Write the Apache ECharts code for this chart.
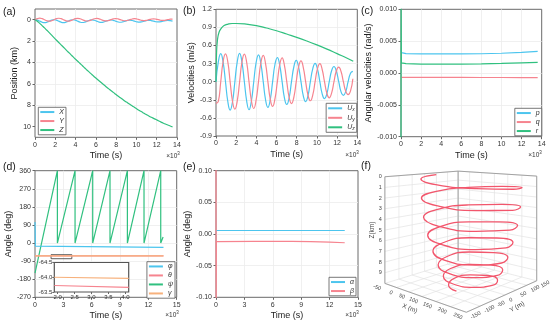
<!DOCTYPE html>
<html><head><meta charset="utf-8">
<script src="https://cdn.jsdelivr.net/npm/echarts@6/dist/echarts.min.js"></script>
<style>html,body{margin:0;padding:0;background:#fff}#c{width:550px;height:328px}</style>
</head><body><div id="c"></div>
<script>
// ---------- DATA ----------
// time in 10^3 s
const time = [0, 0.23, 0.47, 0.70, 0.94, 1.17, 1.40, 1.64,
  1.87, 2.10, 2.34, 2.57, 2.81, 3.04, 3.27, 3.51,
  3.74, 3.97, 4.21, 4.44, 4.68, 4.91, 5.14, 5.38,
  5.61, 5.84, 6.08, 6.31, 6.55, 6.78, 7.01, 7.25,
  7.48, 7.72, 7.95, 8.18, 8.42, 8.65, 8.88, 9.12,
  9.35, 9.59, 9.82, 10.05, 10.29, 10.52, 10.75, 10.99,
  11.22, 11.46, 11.69, 11.92, 12.16, 12.39, 12.62, 12.86,
  13.09, 13.33, 13.56];
// position (km)
const posX = [0, 0.040, 0.138, 0.236, 0.276, 0.236, 0.138, 0.040,
  0, 0.041, 0.138, 0.234, 0.273, 0.233, 0.138, 0.044,
  0.006, 0.045, 0.138, 0.229, 0.265, 0.227, 0.138, 0.051,
  0.016, 0.053, 0.138, 0.221, 0.253, 0.218, 0.138, 0.060,
  0.030, 0.063, 0.138, 0.211, 0.239, 0.208, 0.138, 0.070,
  0.044, 0.073, 0.138, 0.201, 0.225, 0.198, 0.138, 0.080,
  0.058, 0.083, 0.138, 0.191, 0.211, 0.188, 0.138, 0.090,
  0.072, 0.093, 0.138];
const posY = [0, -0.098, -0.138, -0.098, 0, 0.098, 0.138, 0.098,
  0, -0.097, -0.136, -0.096, 0, 0.095, 0.134, 0.094,
  0, -0.093, -0.130, -0.091, 0, 0.089, 0.125, 0.087,
  0, -0.085, -0.118, -0.083, 0, 0.080, 0.112, 0.078,
  0, -0.075, -0.105, -0.073, 0, 0.070, 0.098, 0.068,
  0, -0.065, -0.091, -0.063, 0, 0.060, 0.084, 0.058,
  0, -0.055, -0.077, -0.053, 0, 0.050, 0.070, 0.048,
  0, -0.045, -0.062];
const posZ = [0, 0.14, 0.34, 0.55, 0.77, 0.99, 1.21, 1.44,
  1.67, 1.90, 2.13, 2.35, 2.58, 2.80, 3.02, 3.24,
  3.46, 3.68, 3.89, 4.10, 4.31, 4.52, 4.73, 4.93,
  5.13, 5.33, 5.52, 5.71, 5.90, 6.09, 6.27, 6.45,
  6.63, 6.80, 6.97, 7.14, 7.30, 7.46, 7.62, 7.77,
  7.92, 8.07, 8.21, 8.35, 8.49, 8.62, 8.75, 8.88,
  9.00, 9.12, 9.23, 9.34, 9.45, 9.56, 9.66, 9.76,
  9.85, 9.94, 10.02];
// velocities (m/s)
const velX = [0, 0.328, 0.464, 0.328, 0, -0.328, -0.470, -0.328,
  0, 0.325, 0.470, 0.323, 0, -0.321, -0.465, -0.316,
  0, 0.311, 0.445, 0.306, 0, -0.299, -0.425, -0.292,
  0, 0.285, 0.400, 0.278, 0, -0.269, -0.378, -0.262,
  0, 0.252, 0.353, 0.245, 0, -0.235, -0.330, -0.228,
  0, 0.218, 0.303, 0.211, 0, -0.202, -0.280, -0.195,
  0, 0.185, 0.252, 0.178, 0, -0.169, -0.225, -0.161,
  0, 0.140, 0.170];
const velY = [-0.36, -0.328, 0, 0.328, 0.462, 0.328, 0, -0.328,
  -0.455, -0.325, 0, 0.323, 0.458, 0.321, 0, -0.316,
  -0.444, -0.311, 0, 0.306, 0.437, 0.299, 0, -0.292,
  -0.410, -0.285, 0, 0.278, 0.395, 0.269, 0, -0.262,
  -0.363, -0.252, 0, 0.245, 0.345, 0.235, 0, -0.228,
  -0.316, -0.218, 0, 0.211, 0.298, 0.202, 0, -0.195,
  -0.269, -0.185, 0, 0.178, 0.240, 0.169, 0, -0.161,
  -0.215, -0.152, 0.05];
const velZTime = [0, 0.05, 0.15, 0.3, 0.5, 0.8, 1.2, 1.6, 2, 3, 4, 5, 6, 7, 8, 9, 10, 11, 12, 13, 13.6];
const velZ = [0, 0.45, 0.70, 0.82, 0.88, 0.93, 0.955, 0.965, 0.965, 0.955, 0.93, 0.89, 0.845, 0.79, 0.735, 0.675, 0.61, 0.54, 0.465, 0.39, 0.34];
// angular velocities (rad/s)
const pTime = [0, 0.05, 0.5, 2, 4, 6, 8, 10, 12, 13.6];
const pVal = [0.0036, 0.0032, 0.00305, 0.0030, 0.0030, 0.0030, 0.00302, 0.0031, 0.00325, 0.0034];
const qTime = [0, 2, 4, 6, 8, 10, 12, 13.6];
const qVal = [-0.0007, -0.0007, -0.0007, -0.0007, -0.00071, -0.00071, -0.00072, -0.00072];
const rTime = [0, 0.01, 0.04, 0.5, 2, 4, 6, 8, 10, 12, 13.6];
const rVal = [-0.012, 0.012, 0.0016, 0.00148, 0.0014, 0.0014, 0.0014, 0.00142, 0.0015, 0.0016, 0.00168];
// attitude angles (deg)
const phiTime = [0, 0.04, 0.15, 13.6];
const phiVal = [105, -15, -22, -22];
const thetaTime = [0, 13.6];
const thetaVal = [-63.7, -63.65];
const psiTime = [0, 2.37, 2.37, 4.24, 4.24, 6.11, 6.11, 7.94, 7.94, 9.78, 9.78, 11.54, 11.54, 13.31, 13.31, 13.56];
const psiVal = [-150, 360, 0, 360, 0, 360, 0, 360, 0, 360, 0, 360, 0, 360, 0, 30];
const gammaTime = [0, 13.6];
const gammaVal = [-64.0, -63.95];
const insetTime = [1.9, 4.1];
const insetTheta = [-63.72, -63.66];
const insetGamma = [-64.0, -63.96];
// attack / sideslip (deg)
const alphaTime = [0, 13.6];
const alphaVal = [0.0055, 0.0055];
const betaTime = [0, 0.01, 0.04, 4, 8, 10, 12, 13.6];
const betaVal = [0.15, -0.15, -0.012, -0.0118, -0.0118, -0.012, -0.0128, -0.0138];
// tick labels
const posTicks = [0, 2, 4, 6, 8, 10];
const insetXTicks = [2.0, 2.5, 3.0, 3.5, 4.0];
const x3Ticks = [-50, 0, 50, 100, 150, 200, 250];
const y3Ticks = [-150, -100, -50, 0, 50, 100, 150];
const z3Ticks = [0, 1, 2, 3, 4, 5, 6, 7, 8, 9];

// ---------- STYLE / LAYOUT ----------
const FONT = '"Liberation Sans", Arial, sans-serif';
const COL = {cyan: '#4cc5ee', red: '#f6848f', green: '#30c07f', orange: '#f7b17c', helix: '#f2566c'};
const pairs = (xs, ys) => xs.map((x, i) => [x, ys[i]]);

const gridRects = [
  {left: 35, top: 9, width: 142, height: 128.3},
  {left: 216, top: 9.3, width: 141.3, height: 126.7},
  {left: 401, top: 9.3, width: 140.7, height: 127.4},
  {left: 35, top: 170.7, width: 141.7, height: 126.6},
  {left: 216, top: 170.7, width: 142, height: 126.6}
];
const grids = gridRects.map(r => Object.assign({show: true, borderColor: '#6a6a6a', borderWidth: 1, backgroundColor: 'transparent', containLabel: false}, r));
grids.push({show: true, left: 54.3, top: 262.5, width: 74.4, height: 29.5, backgroundColor: '#fff', borderColor: '#555', borderWidth: 1.2, z: 5});
grids.push({show: false, left: 0, top: 0, width: 550, height: 328});

const tickLine = {lineStyle: {color: '#666'}};
const split = {show: true, showMinLine: false, showMaxLine: false, lineStyle: {color: '#ececec', width: 0.8}};
function xAx(gi, max, interval) {
  return {gridIndex: gi, type: 'value', min: 0, max: max, interval: interval, position: 'bottom',
    name: 'Time (s)', nameLocation: 'middle', nameGap: 14,
    nameTextStyle: {fontSize: 9, color: '#222', fontFamily: FONT},
    axisLine: {show: false, onZero: false}, axisTick: Object.assign({show: true, length: 2.5}, tickLine),
    axisLabel: {fontSize: 7, color: '#333', margin: 4, fontFamily: FONT}, splitLine: split};
}
function yAx(gi, o) {
  const ax = {gridIndex: gi, type: 'value', min: o.min, max: o.max, inverse: !!o.inverse, position: 'left',
    name: o.name, nameLocation: 'middle', nameGap: o.gap,
    nameTextStyle: {fontSize: 9, color: '#222', fontFamily: FONT},
    axisLine: {show: false, onZero: false}, axisTick: Object.assign({show: true, length: 2.5}, tickLine),
    axisLabel: {fontSize: 7, color: '#333', margin: 4, fontFamily: FONT}, splitLine: split};
  if (o.interval) ax.interval = o.interval;
  if (o.fmt !== undefined) ax.axisLabel.formatter = v => v.toFixed(o.fmt);
  if (o.custom) { ax.axisTick.customValues = o.custom; ax.axisLabel.customValues = o.custom; }
  return ax;
}
const xAxis = [xAx(0, 14, 2), xAx(1, 14, 2), xAx(2, 14, 2), xAx(3, 15, 3), xAx(4, 15, 3)];
const yAxis = [
  yAx(0, {min: -1, max: 11, inverse: true, custom: posTicks, name: 'Position (km)', gap: 15}),
  yAx(1, {min: -0.9, max: 1.2, interval: 0.3, fmt: 1, name: 'Velocities (m/s)', gap: 17}),
  yAx(2, {min: -0.01, max: 0.01, interval: 0.005, fmt: 3, name: 'Angular velocities (rad/s)', gap: 23}),
  yAx(3, {min: -270, max: 360, interval: 90, name: 'Angle (deg)', gap: 17}),
  yAx(4, {min: -0.1, max: 0.1, interval: 0.05, fmt: 2, name: 'Angle (deg)', gap: 21})
];
// inset axes
xAxis.push({gridIndex: 5, type: 'value', min: 1.9, max: 4.1, z: 6, position: 'bottom',
  axisLine: {show: false, onZero: false}, axisTick: {show: true, length: 2, customValues: insetXTicks, lineStyle: {color: '#666'}},
  axisLabel: {fontSize: 6, color: '#333', margin: 2, customValues: insetXTicks, formatter: v => v.toFixed(1), fontFamily: FONT},
  splitLine: {show: false}});
yAxis.push({gridIndex: 5, type: 'value', min: -64.5, max: -63.5, interval: 0.5, inverse: true, z: 6, position: 'left',
  axisLine: {show: false, onZero: false}, axisTick: {show: true, length: 2, lineStyle: {color: '#666'}},
  axisLabel: {fontSize: 6, color: '#333', margin: 2, formatter: v => v.toFixed(1), fontFamily: FONT},
  splitLine: {show: false}});
// 3D canvas axes (hidden, pixel space)
xAxis.push({gridIndex: 6, type: 'value', min: 0, max: 550, show: false});
yAxis.push({gridIndex: 6, type: 'value', min: 0, max: 328, inverse: true, show: false});

function line(name, gi, data, color, extra) {
  return Object.assign({name: name, type: 'line', xAxisIndex: gi, yAxisIndex: gi, data: data,
    showSymbol: false, symbol: 'none', smooth: false, lineStyle: {width: 1.2, color: color}, itemStyle: {color: color},
    animation: false, z: 3}, extra || {});
}

// ---------- 3D projection for panel (f) ----------
const box3 = {x: [-50, 250], y: [-150, 150], z: [0, 10]};
const cam = {psi: 48 * Math.PI / 180, Dh: 4, f: 430, H: 0.983, ez: 0.819, cx: 461.5, cy: 141.2};
function proj(X, Y, Z) {
  const a = (X - box3.x[0]) / (box3.x[1] - box3.x[0]);
  const b = (Y - box3.y[0]) / (box3.y[1] - box3.y[0]);
  const c = (Z - box3.z[0]) / (box3.z[1] - box3.z[0]);
  const xw = a - 0.5, yw = b - 0.5, zw = (0.5 - c) * cam.H;
  const cs = Math.cos(cam.psi), sn = Math.sin(cam.psi);
  const depth = cam.Dh - (xw * cs - yw * sn);
  const lat = xw * sn + yw * cs;
  return [cam.cx + cam.f * lat / depth, cam.cy + cam.f * (cam.ez - zw) / depth];
}
const [x0, x1] = box3.x, [y0, y1] = box3.y, [z0, z1] = box3.z;
const segs = [];
function seg(p, q, kind) { const A = proj(...p), B = proj(...q); segs.push([A[0], A[1], B[0], B[1], kind]); }
y3Ticks.forEach(y => seg([x0, y, z0], [x0, y, z1], 0));
x3Ticks.forEach(x => seg([x, y1, z0], [x, y1, z1], 0));
z3Ticks.forEach(z => { seg([x0, y0, z], [x0, y1, z], 0); seg([x0, y1, z], [x1, y1, z], 0); });
x3Ticks.forEach(x => seg([x, y0, z1], [x, y1, z1], 0));
y3Ticks.forEach(y => seg([x0, y, z1], [x1, y, z1], 0));
// box edges
seg([x0, y0, z0], [x0, y0, z1], 1); seg([x0, y1, z0], [x0, y1, z1], 1); seg([x1, y1, z0], [x1, y1, z1], 1);
seg([x0, y0, z0], [x0, y1, z0], 1); seg([x0, y1, z0], [x1, y1, z0], 1);
seg([x0, y0, z1], [x1, y0, z1], 1); seg([x1, y0, z1], [x1, y1, z1], 1);
// labels
const labs = [];
z3Ticks.forEach(z => { const p = proj(x0, y0, z); labs.push({x: p[0] - 3, y: p[1], t: String(z), align: 'right', va: 'middle', rot: 0}); });
x3Ticks.forEach(x => { const p = proj(x, y0, z1); labs.push({x: p[0] - 3, y: p[1] + 3, t: String(x), align: 'right', va: 'top', rot: -0.4}); });
y3Ticks.forEach(y => { const p = proj(x1, y, z1); labs.push({x: p[0] + 3, y: p[1] + 3, t: String(y), align: 'left', va: 'top', rot: 0.5}); });
(() => { const p = proj((x0 + x1) / 2, y0, z1); labs.push({x: p[0] - 12, y: p[1] + 12, t: 'X (m)', align: 'center', va: 'middle', rot: -0.39, fs: 6.5}); })();
(() => { const p = proj(x1, (y0 + y1) / 2, z1); labs.push({x: p[0] + 12, y: p[1] + 12, t: 'Y (m)', align: 'center', va: 'middle', rot: 0.5, fs: 6.5}); })();
(() => { const p = proj(x0, y0, (z0 + z1) / 2); labs.push({x: p[0] - 13, y: p[1], t: 'Z(km)', align: 'center', va: 'middle', rot: Math.PI / 2, fs: 6.5}); })();

const helix = time.map((t, i) => proj(posX[i] * 1000, posY[i] * 1000, posZ[i]));

// ---------- legends ----------
function lg(names, pos, extra) {
  return Object.assign({data: names, orient: 'vertical', icon: 'rect', itemWidth: 14, itemHeight: 2, itemGap: 1.5,
    padding: [1, 2, 1, 2], borderColor: '#555', borderWidth: 0.8, backgroundColor: '#fff', selectedMode: false,
    textStyle: {fontSize: 7, fontStyle: 'italic', color: '#333', lineHeight: 7.5, fontFamily: FONT}}, pos, extra || {});
}
const subRich = {u: {fontSize: 7, fontStyle: 'italic', fontFamily: FONT, color: '#333'}, s: {fontSize: 5, fontStyle: 'italic', fontFamily: FONT, color: '#333', padding: [3, 0, 0, 0]}};
const legends = [
  lg(['X', 'Y', 'Z'], {left: 38.3, top: 107.3}),
  lg(['Ux', 'Uy', 'Uz'], {right: 193.3, top: 103.3}, {formatter: n => '{u|U}{s|' + n.slice(1) + '}', textStyle: {rich: subRich, lineHeight: 8}}),
  lg(['p', 'q', 'r'], {right: 8.3, top: 108.3}),
  lg(['φ', 'θ', 'ψ', 'γ'], {right: 375, top: 261.7}),
  lg(['α', 'β'], {right: 194, top: 277.3})
];

// ---------- text decorations ----------
function txt(x, y, s, size) { return {type: 'text', x: x, y: y, z: 10, style: {text: s, fontSize: size, fill: '#222', fontFamily: FONT, align: 'left', verticalAlign: 'middle'}}; }
function e3(x, y) { return {type: 'text', x: x, y: y, z: 10, style: {text: '×10{s|3}', fontSize: 6.5, fill: '#333', fontFamily: FONT, align: 'center', verticalAlign: 'middle', rich: {s: {fontSize: 4.5, fontFamily: FONT, fill: '#333', padding: [0, 0, 4, 0]}}}}; }
const graphic = [
  txt(3, 12, '(a)', 10.5), txt(183, 11.5, '(b)', 10.5), txt(361, 11.5, '(c)', 10.5),
  txt(3, 167, '(d)', 10.5), txt(183, 167, '(e)', 10.5), txt(361, 166, '(f)', 10.5),
  e3(173, 156), e3(352, 155), e3(535, 155), e3(172, 315), e3(352, 315)
];

const series = [
  line('X', 0, pairs(time, posX), COL.cyan, {smooth: true}),
  line('Y', 0, pairs(time, posY), COL.red, {smooth: true}),
  line('Z', 0, pairs(time, posZ), COL.green, {smooth: true}),
  line('Ux', 1, pairs(time, velX), COL.cyan, {smooth: true}),
  line('Uy', 1, pairs(time, velY), COL.red, {smooth: true}),
  line('Uz', 1, pairs(velZTime, velZ), COL.green, {smooth: true}),
  line('p', 2, pairs(pTime, pVal), COL.cyan),
  line('q', 2, pairs(qTime, qVal), COL.red),
  line('r', 2, pairs(rTime, rVal), COL.green),
  line('ψ', 3, pairs(psiTime, psiVal), COL.green),
  line('φ', 3, pairs(phiTime, phiVal), COL.cyan),
  line('θ', 3, pairs(thetaTime, thetaVal), COL.red),
  line('γ', 3, pairs(gammaTime, gammaVal), COL.orange, {markArea: {silent: true, itemStyle: {color: 'rgba(0,0,0,0)', borderColor: '#333', borderWidth: 0.8}, data: [[{xAxis: 1.7, yAxis: -58}, {xAxis: 3.9, yAxis: -78}]]}}),
  line('θin', 5, pairs(insetTime, insetTheta), COL.red, {z: 7}),
  line('γin', 5, pairs(insetTime, insetGamma), COL.orange, {z: 7}),
  line('α', 4, pairs(alphaTime, alphaVal), COL.cyan),
  line('β', 4, pairs(betaTime, betaVal), COL.red),
  {type: 'custom', name: 'frame3d', xAxisIndex: 6, yAxisIndex: 6, data: segs, encode: {x: [0, 2], y: [1, 3]}, clip: false, z: 1, animation: false,
    renderItem: (params, api) => {
      const a = api.coord([api.value(0), api.value(1)]), b = api.coord([api.value(2), api.value(3)]);
      const edge = api.value(4) === 1;
      return {type: 'line', shape: {x1: a[0], y1: a[1], x2: b[0], y2: b[1]}, style: {stroke: edge ? '#9a9a9a' : '#e2e2e2', lineWidth: edge ? 0.9 : 0.7}};
    }},
  {type: 'custom', name: 'labels3d', xAxisIndex: 6, yAxisIndex: 6, data: labs.map(l => [l.x, l.y]), clip: false, z: 2, animation: false,
    renderItem: (params, api) => {
      const l = labs[params.dataIndex];
      const p = api.coord([l.x, l.y]);
      return {type: 'text', x: p[0], y: p[1], rotation: l.rot, style: {text: l.t, fontSize: l.fs || 5.5, fill: '#444', fontFamily: FONT, align: l.align, verticalAlign: l.va}};
    }},
  line('helix', 6, helix, COL.helix, {smooth: true, lineStyle: {width: 1.3, color: COL.helix}, z: 4})
];

const chart = echarts.init(document.getElementById('c'), null, {renderer: 'canvas'});
chart.setOption({
  animation: false,
  backgroundColor: '#fff',
  textStyle: {fontFamily: FONT},
  grid: grids, xAxis: xAxis, yAxis: yAxis, legend: legends, graphic: graphic, series: series
});
</script>
</body></html>
